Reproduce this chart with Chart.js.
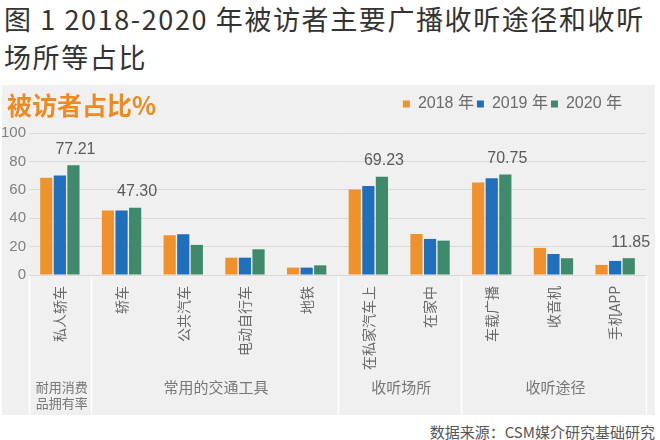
<!DOCTYPE html>
<html>
<head>
<meta charset="utf-8">
<script src="https://cdn.jsdelivr.net/npm/chart.js@4.4.1/dist/chart.umd.min.js"></script>
<style>
  html, body { margin: 0; padding: 0; background: #ffffff; }
  body { width: 660px; height: 440px; position: relative; overflow: hidden; font-family: "Noto Sans CJK SC", sans-serif; }
  #title { position: absolute; left: 4px; top: 0px; font-size: 27px; line-height: 38px; color: #333333; letter-spacing: 1.6px; white-space: nowrap; }
  #panel { position: absolute; left: 2px; top: 85px; width: 653px; height: 330px; background: #f0f0f0; }
  #heading { position: absolute; left: 5px; top: 2px; font-size: 25px; line-height: 34px; font-weight: bold; color: #ee8a22; white-space: nowrap; }
  #source { position: absolute; right: 5px; top: 421px; font-size: 15px; line-height: 22px; color: #555555; white-space: nowrap; }
  canvas { position: absolute; left: 0; top: 0; }
</style>
</head>
<body>
<div id="title">图 1 2018-2020 年被访者主要广播收听途径和收听<br>场所等占比</div>
<div id="panel">
  <canvas id="c" width="653" height="330"></canvas>
  <div id="heading">被访者占比%</div>
</div>
<div id="source">数据来源：CSM媒介研究基础研究</div>
<script>
const categories = ['私人轿车', '轿车', '公共汽车', '电动自行车', '地铁', '在私家汽车上', '在家中', '车载广播', '收音机', '手机APP'];
const seriesNames = ['2018 年', '2019 年', '2020 年'];
const values2018 = [68.5, 45.4, 28.0, 12.2, 5.2, 60.2, 28.9, 65.2, 19.1, 7.1];
const values2019 = [70.1, 45.4, 28.7, 12.2, 5.2, 62.6, 25.4, 68.2, 14.8, 9.9];
const values2020 = [77.21, 47.30, 21.2, 18.1, 6.8, 69.23, 24.2, 70.75, 11.8, 11.85];
const labeledIndices2020 = [0, 1, 5, 7, 9];
const yTicks = [0, 20, 40, 60, 80, 100];
const groupNames = [['耐用消费', '品拥有率'], ['常用的交通工具'], ['收听场所'], ['收听途径']];
const groupStart = [0, 1, 5, 7];
const groupEnd = [0, 4, 6, 9];
const colors = ['#f0922b', '#1f6fbd', '#3f8a6a'];

const latinFont = '"Liberation Sans", "Noto Sans CJK SC", sans-serif';
const cjkFont = '"Noto Sans CJK SC", sans-serif';

const layoutTweaks = {
  id: 'layoutTweaks',
  afterInit(chart) {
    const lg = chart.legend;
    if (lg) {
      const orig = lg.fit.bind(lg);
      lg.fit = function () { orig(); this.height += 11; };
    }
  },
  afterLayout(chart) {
    const lg = chart.legend;
    if (lg) { lg.right -= 21; lg.left -= 21; }
  }
};

const valueLabels = {
  id: 'valueLabels',
  afterDatasetsDraw(chart) {
    const ctx = chart.ctx;
    const meta = chart.getDatasetMeta(2);
    ctx.save();
    ctx.font = '16px ' + latinFont;
    ctx.fillStyle = '#5a5a5a';
    ctx.textAlign = 'center';
    ctx.textBaseline = 'bottom';
    labeledIndices2020.forEach(i => {
      const bar = meta.data[i];
      ctx.fillText(values2020[i].toFixed(2), bar.x + 2, bar.y - 8);
    });
    ctx.restore();
  }
};

const groupAxis = {
  id: 'groupAxis',
  afterDraw(chart) {
    const ctx = chart.ctx;
    const xs = chart.scales.x;
    const area = chart.chartArea;
    const step = xs.getPixelForValue(1) - xs.getPixelForValue(0);
    const bottom = chart.height;
    ctx.save();
    ctx.strokeStyle = 'rgba(255,255,255,0.9)';
    ctx.lineWidth = 1.5;
    const edges = [];
    groupStart.forEach(s => edges.push(xs.getPixelForValue(s) - step / 2));
    edges.push(xs.getPixelForValue(groupEnd[groupEnd.length - 1]) + step / 2);
    edges.forEach(x => {
      ctx.beginPath();
      ctx.moveTo(Math.round(x) + 0.5, area.bottom + 1);
      ctx.lineTo(Math.round(x) + 0.5, bottom);
      ctx.stroke();
    });
    ctx.fillStyle = '#777777';
    ctx.textAlign = 'center';
    ctx.textBaseline = 'middle';
    groupNames.forEach((lines, g) => {
      const cx = (xs.getPixelForValue(groupStart[g]) + xs.getPixelForValue(groupEnd[g])) / 2 + 2;
      ctx.font = (lines.length > 1 ? '13px ' : '15px ') + cjkFont;
      lines.forEach((t, k) => {
        ctx.fillText(t, cx, area.bottom + 112 + k * 16.5);
      });
    });
    ctx.restore();
  }
};

new Chart(document.getElementById('c'), {
  type: 'bar',
  data: {
    labels: categories,
    datasets: [
      { label: seriesNames[0], data: values2018, backgroundColor: colors[0] },
      { label: seriesNames[1], data: values2019, backgroundColor: colors[1] },
      { label: seriesNames[2], data: values2020, backgroundColor: colors[2] }
    ]
  },
  options: {
    responsive: false,
    animation: false,
    devicePixelRatio: 1,
    layout: { padding: { top: 8, right: 9, bottom: 0, left: 0 } },
    datasets: { bar: { categoryPercentage: 0.66, barPercentage: 0.9 } },
    plugins: {
      legend: {
        display: true,
        position: 'top',
        align: 'end',
        labels: {
          boxWidth: 7,
          boxHeight: 7,
          padding: 3,
          color: '#6a6a6a',
          font: { size: 16, family: latinFont }
        }
      },
      tooltip: { enabled: false },
      title: { display: false }
    },
    scales: {
      x: {
        grid: { display: false, drawTicks: false },
        border: { display: false },
        ticks: {
          autoSkip: false,
          minRotation: 90,
          maxRotation: 90,
          padding: 11,
          color: '#6a6a6a',
          font: { size: 14, family: cjkFont }
        },
        afterFit(scale) { scale.height = 140; }
      },
      y: {
        min: 0,
        max: 100,
        afterBuildTicks(scale) { scale.ticks = yTicks.map(v => ({ value: v })); },
        grid: { color: '#d9d9d9', drawTicks: false, lineWidth: 1 },
        border: { display: false },
        ticks: {
          padding: 3,
          color: '#808080',
          font: { size: 15, family: latinFont }
        },
        afterFit(scale) { scale.width = 27; }
      }
    }
  },
  plugins: [layoutTweaks, valueLabels, groupAxis]
});
</script>
</body>
</html>
